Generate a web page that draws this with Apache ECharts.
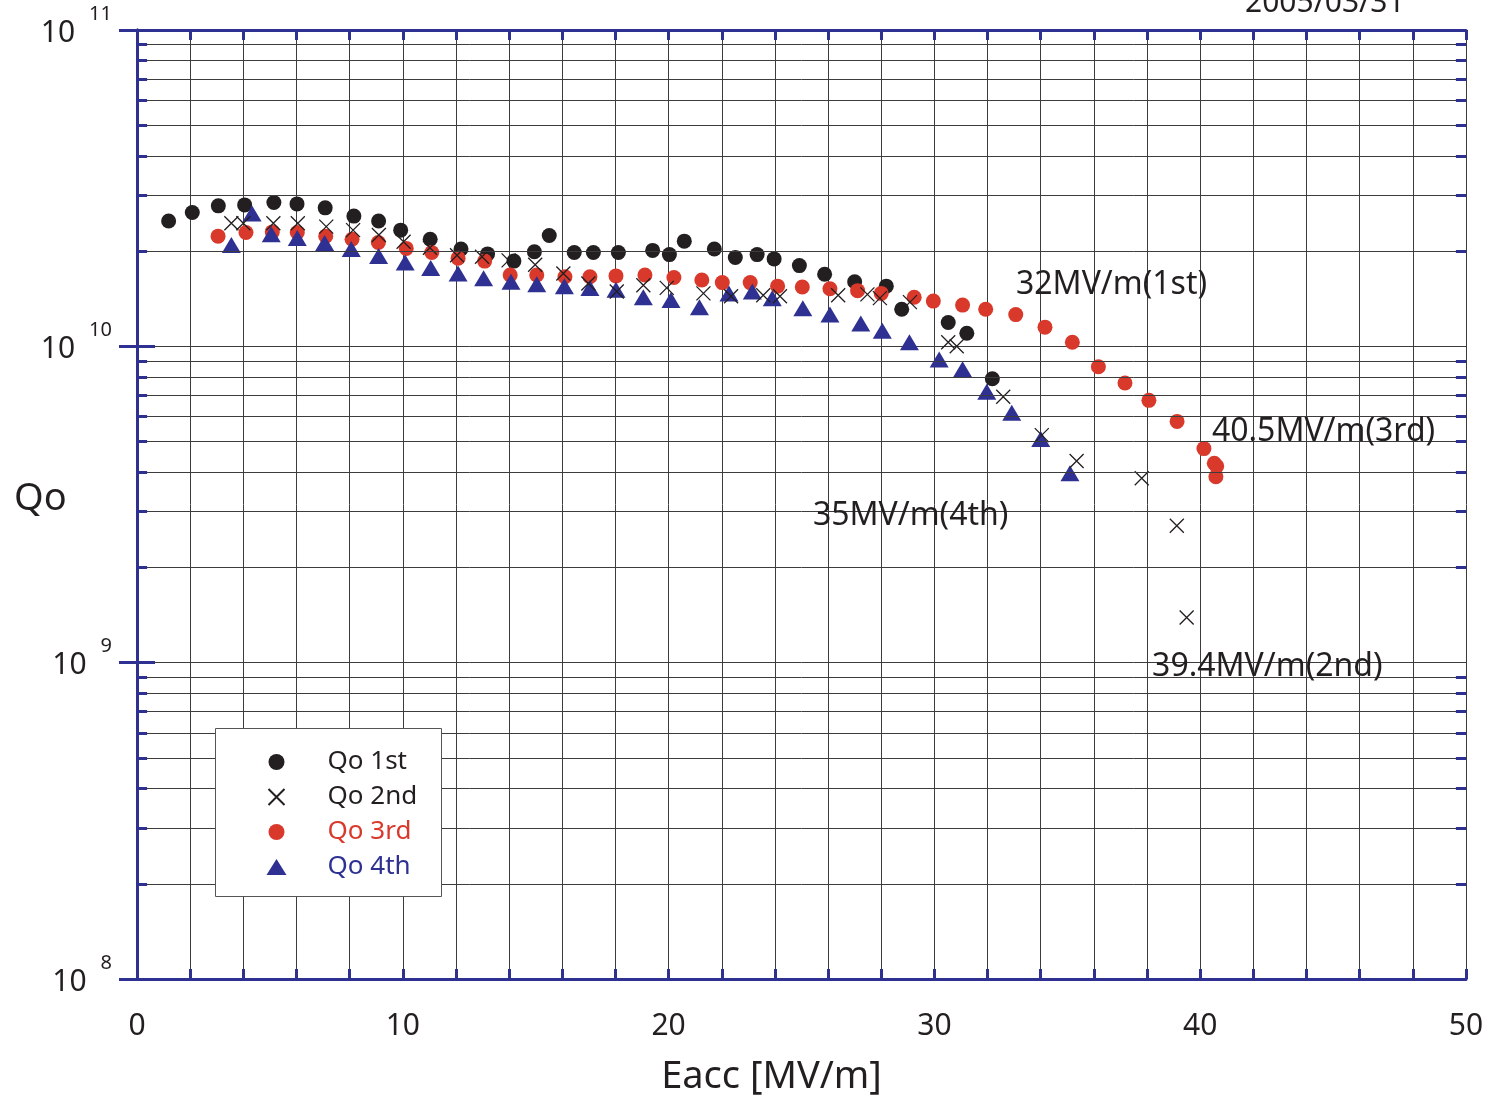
<!DOCTYPE html>
<html>
<head>
<meta charset="utf-8">
<title>Qo vs Eacc</title>
<script src="https://cdn.jsdelivr.net/npm/echarts@6/dist/echarts.min.js"></script>
<style>
  html, body { margin: 0; padding: 0; background: #fff; }
  #chart { width: 1490px; height: 1098px; }
</style>
</head>
<body>
<div id="chart"></div>
<script>
// measured data, Eacc [MV/m] and Qo
const eacc1 = [1.19, 2.08, 3.06, 4.05, 5.15, 6.02, 7.08, 8.16, 9.09, 9.92, 11.03, 12.19, 13.19, 14.18, 14.95, 15.51, 16.45, 17.17, 18.11, 19.40, 20.03, 20.59, 21.72, 22.51, 23.33, 23.97, 24.92, 25.87, 27.00, 28.19, 28.77, 30.52, 31.22, 32.18];
const qo1 = [2.49e10, 2.65e10, 2.78e10, 2.80e10, 2.85e10, 2.82e10, 2.74e10, 2.58e10, 2.49e10, 2.33e10, 2.18e10, 2.03e10, 1.96e10, 1.86e10, 1.99e10, 2.24e10, 1.98e10, 1.98e10, 1.98e10, 2.01e10, 1.95e10, 2.15e10, 2.03e10, 1.91e10, 1.95e10, 1.89e10, 1.80e10, 1.69e10, 1.60e10, 1.55e10, 1.31e10, 1.19e10, 1.10e10, 7.90e9];

const eacc2 = [3.55, 4.0, 5.13, 6.05, 7.12, 8.13, 9.10, 10.03, 11.02, 12.04, 12.98, 13.98, 14.98, 16.04, 16.98, 18.05, 19.05, 19.93, 21.31, 22.35, 23.56, 24.19, 26.38, 27.48, 27.95, 29.08, 30.52, 30.84, 32.59, 34.04, 35.35, 37.80, 39.12, 39.49];
const qo2 = [2.45e10, 2.45e10, 2.45e10, 2.45e10, 2.39e10, 2.33e10, 2.25e10, 2.14e10, 2.05e10, 1.94e10, 1.92e10, 1.87e10, 1.81e10, 1.70e10, 1.58e10, 1.49e10, 1.56e10, 1.53e10, 1.47e10, 1.44e10, 1.45e10, 1.44e10, 1.45e10, 1.46e10, 1.42e10, 1.38e10, 1.03e10, 1.00e10, 6.93e9, 5.24e9, 4.34e9, 3.83e9, 2.71e9, 1.39e9];

const eacc3 = [3.05, 4.10, 5.09, 6.03, 7.10, 8.09, 9.08, 10.13, 11.09, 12.08, 13.08, 14.04, 15.04, 16.10, 17.04, 18.02, 19.11, 20.20, 21.25, 22.02, 23.07, 24.10, 25.03, 26.07, 27.11, 28.00, 29.24, 29.96, 31.06, 31.93, 33.06, 34.16, 35.19, 36.17, 37.17, 38.07, 39.13, 40.14, 40.53, 40.62, 40.59];
const qo3 = [2.23e10, 2.29e10, 2.30e10, 2.29e10, 2.23e10, 2.18e10, 2.13e10, 2.04e10, 1.98e10, 1.90e10, 1.86e10, 1.68e10, 1.68e10, 1.66e10, 1.66e10, 1.67e10, 1.68e10, 1.65e10, 1.62e10, 1.59e10, 1.59e10, 1.55e10, 1.54e10, 1.52e10, 1.50e10, 1.47e10, 1.43e10, 1.39e10, 1.35e10, 1.31e10, 1.26e10, 1.15e10, 1.03e10, 8.62e9, 7.66e9, 6.75e9, 5.79e9, 4.75e9, 4.27e9, 4.18e9, 3.87e9];

const eacc4 = [3.55, 4.33, 5.05, 6.03, 7.06, 8.06, 9.09, 10.09, 11.05, 12.08, 13.04, 14.07, 15.04, 16.08, 17.04, 18.02, 19.05, 20.09, 21.16, 22.27, 23.15, 23.90, 25.05, 26.07, 27.23, 28.04, 29.06, 30.18, 31.06, 31.97, 32.91, 34.00, 35.10];
const qo4 = [2.09e10, 2.63e10, 2.26e10, 2.20e10, 2.12e10, 2.03e10, 1.93e10, 1.84e10, 1.77e10, 1.70e10, 1.64e10, 1.60e10, 1.57e10, 1.55e10, 1.53e10, 1.51e10, 1.43e10, 1.40e10, 1.33e10, 1.47e10, 1.49e10, 1.42e10, 1.32e10, 1.26e10, 1.18e10, 1.12e10, 1.03e10, 9.09e9, 8.46e9, 7.19e9, 6.17e9, 5.09e9, 3.97e9];

// minor log grid: 2..9 x 10^n
const decades = [8, 9, 10];
const mantissas = [2, 3, 4, 5, 6, 7, 8, 9];

// annotations: text, Eacc where the text starts, Qo at its middle
const noteText = ['32MV/m(1st)', '40.5MV/m(3rd)', '35MV/m(4th)', '39.4MV/m(2nd)'];
const noteX = [33.07, 40.44, 25.43, 38.19];
const noteY = [1.56e10, 5.36e9, 2.91e9, 9.68e8];

const black = '#231f20';
const red = '#d9392b';
const blue = '#2e3192';
const font = "'Noto Sans', sans-serif";

function zip(xs, ys) {
  return xs.map((x, i) => [x, ys[i]]);
}

const minorQ = [];
decades.forEach(d => mantissas.forEach(m => minorQ.push(m * Math.pow(10, d))));

const tickLen = 0.38; // about 10px in x units
const minorTicks = [];
minorQ.forEach(v => {
  minorTicks.push([{ coord: [0, v] }, { coord: [tickLen, v] }]);
  minorTicks.push([{ coord: [50 - tickLen, v] }, { coord: [50, v] }]);
});

const chart = echarts.init(document.getElementById('chart'));

const xAxisBase = {
  type: 'value',
  min: 0,
  max: 50,
  interval: 2,
  axisLine: { show: true, lineStyle: { color: blue, width: 3 } },
  axisTick: { show: true, inside: true, length: 10, lineStyle: { color: blue, width: 3 } }
};

const yAxisBase = {
  type: 'log',
  logBase: 10,
  min: 1e8,
  max: 1e11,
  axisLine: { show: true, lineStyle: { color: blue, width: 3 } },
  axisTick: { show: true, inside: true, length: 18, lineStyle: { color: blue, width: 3 } },
  minorTick: { show: false },
  minorSplitLine: { show: false }
};

const option = {
  animation: false,
  backgroundColor: '#fff',
  textStyle: { fontFamily: font },
  grid: { left: 137, right: 24, top: 30, bottom: 119, containLabel: false, outerBoundsMode: 'none' },
  xAxis: [
    Object.assign({}, xAxisBase, {
      position: 'bottom',
      name: 'Eacc [MV/m]',
      nameLocation: 'middle',
      nameGap: 79,
      nameTextStyle: { fontSize: 38, color: black, fontFamily: font, padding: [0, 60, 0, 0] },
      splitLine: { show: true, lineStyle: { color: '#3c3c3c', width: 1 } },
      axisLabel: {
        margin: 32,
        fontSize: 30,
        color: black,
        fontFamily: font,
        formatter: v => (v % 10 === 0 ? String(v) : '')
      }
    }),
    Object.assign({}, xAxisBase, {
      position: 'top',
      splitLine: { show: false },
      axisLabel: { show: false }
    })
  ],
  yAxis: [
    Object.assign({}, yAxisBase, {
      position: 'left',
      splitLine: { show: true, lineStyle: { color: '#3c3c3c', width: 1 } },
      axisLabel: {
        margin: 25,
        formatter: v => '{b|10}{e|' + Math.round(Math.log10(v)) + '}',
        rich: {
          b: { fontSize: 30, color: black, fontFamily: font, padding: [6, 0, 0, 0] },
          e: { fontSize: 20, color: black, fontFamily: font, padding: [0, 0, 32, 14] }
        }
      }
    }),
    Object.assign({}, yAxisBase, {
      position: 'right',
      splitLine: { show: false },
      axisLabel: { show: false }
    })
  ],
  legend: {
    orient: 'vertical',
    left: 266,
    top: 747,
    padding: 0,
    itemGap: 5,
    itemWidth: 20,
    itemHeight: 16,
    selectedMode: false,
    z: 10,
    textStyle: { fontSize: 26, lineHeight: 30, fontFamily: font, color: black, padding: [0, 0, 0, 36] },
    data: [
      { name: 'Qo 1st', textStyle: { color: black } },
      { name: 'Qo 2nd', textStyle: { color: black } },
      { name: 'Qo 3rd', textStyle: { color: red } },
      { name: 'Qo 4th', textStyle: { color: blue } }
    ]
  },
  graphic: [
    {
      type: 'rect',
      left: 215,
      top: 728,
      z: 9,
      shape: { width: 226, height: 168 },
      style: { fill: '#fff', stroke: '#555', lineWidth: 1 }
    },
    {
      type: 'text',
      left: 1245,
      top: -12,
      z: 10,
      style: { text: '2005/03/31', fontSize: 30, fill: black, fontFamily: font }
    },
    {
      // y axis title
      type: 'text',
      left: 14,
      top: 480,
      z: 10,
      style: { text: 'Qo', fontSize: 38, fill: black, fontFamily: font }
    }
  ],
  series: [
    {
      // minor horizontal grid lines
      type: 'line',
      data: [],
      z: 1,
      silent: true,
      markLine: {
        silent: true,
        symbol: ['none', 'none'],
        label: { show: false },
        lineStyle: { color: '#3c3c3c', width: 1, type: 'solid' },
        emphasis: { disabled: true },
        data: minorQ.map(v => ({ yAxis: v }))
      }
    },
    {
      // minor blue ticks on left and right frame, plus annotations
      type: 'line',
      data: [],
      z: 6,
      silent: true,
      markLine: {
        silent: true,
        symbol: ['none', 'none'],
        label: { show: false },
        lineStyle: { color: blue, width: 3, type: 'solid' },
        emphasis: { disabled: true },
        data: minorTicks
      },
      markPoint: {
        silent: true,
        symbol: 'circle',
        symbolSize: 0,
        label: {
          show: true,
          position: 'right',
          distance: 0,
          fontSize: 32,
          color: black,
          fontFamily: font,
          formatter: p => p.name
        },
        data: noteText.map((t, i) => ({ name: t, coord: [noteX[i], noteY[i]] }))
      }
    },
    {
      name: 'Qo 1st',
      type: 'scatter',
      z: 3,
      symbol: 'circle',
      symbolSize: 15,
      itemStyle: { color: black, opacity: 1 },
      data: zip(eacc1, qo1)
    },
    {
      name: 'Qo 2nd',
      type: 'scatter',
      z: 4,
      symbol: 'path://M0,0L10,10M10,0L0,10',
      symbolSize: 14,
      itemStyle: { color: 'none', borderColor: black, borderWidth: 1.3, opacity: 1 },
      data: zip(eacc2, qo2)
    },
    {
      name: 'Qo 3rd',
      type: 'scatter',
      z: 3,
      symbol: 'circle',
      symbolSize: 15,
      itemStyle: { color: red, opacity: 1 },
      data: zip(eacc3, qo3)
    },
    {
      name: 'Qo 4th',
      type: 'scatter',
      z: 3,
      symbol: 'triangle',
      symbolSize: [19, 16],
      itemStyle: { color: blue, opacity: 1 },
      data: zip(eacc4, qo4)
    }
  ]
};

chart.setOption(option);
</script>
</body>
</html>
